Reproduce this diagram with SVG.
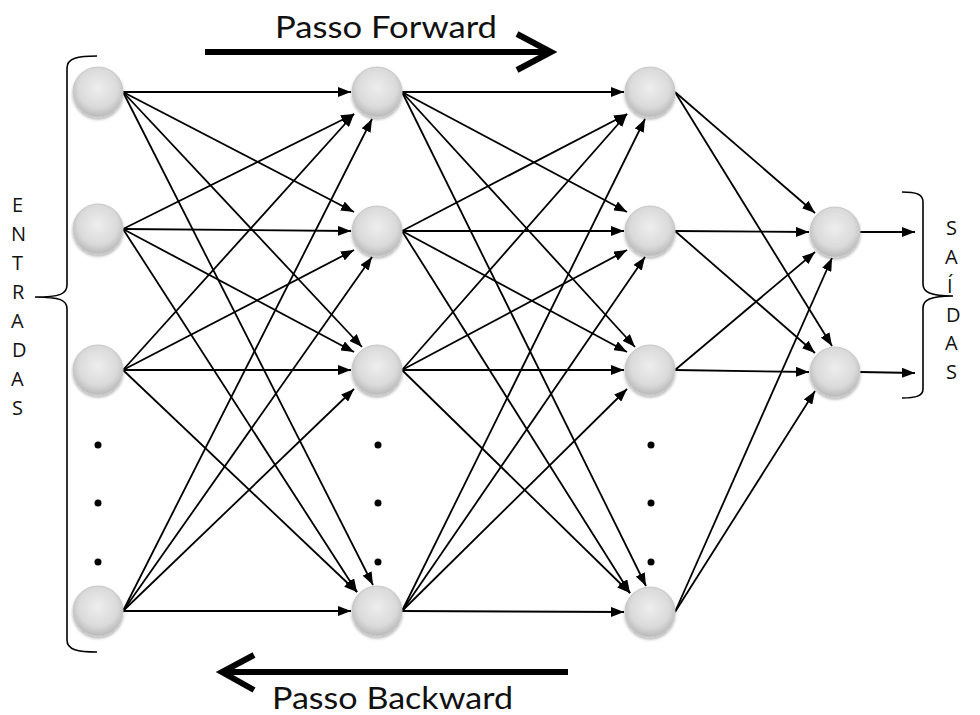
<svg xmlns="http://www.w3.org/2000/svg" width="980" height="715" viewBox="0 0 980 715">
  <style>
    .edge { stroke: #000; stroke-width: 1.8; fill: none; marker-end: url(#arrow); }
    .node { fill: url(#sphere); stroke: #c8c8c8; stroke-width: 1; filter: url(#shade); }
    .bracket { stroke: #000; stroke-width: 1.6; fill: none; }
    .dot { fill: #000; }
    .pass { stroke: #000; stroke-width: 6; fill: none; }
    .title { font-family: Lato, "Open Sans", "Liberation Sans", sans-serif; font-size: 31px; fill: #111; }
    .side { font-family: "Open Sans", Lato, "Liberation Sans", sans-serif; font-size: 20px; fill: #111; }
  </style>
  <defs>
    <radialGradient id="sphere" cx="0.5" cy="0.42" r="0.56">
      <stop offset="0" stop-color="#eeeeee"/>
      <stop offset="0.7" stop-color="#dadada"/>
      <stop offset="1" stop-color="#bcbcbc"/>
    </radialGradient>
    <filter id="shade" x="-30%" y="-30%" width="160%" height="170%">
      <feDropShadow dx="0" dy="2" stdDeviation="1.5" flood-color="#000" flood-opacity="0.3"/>
    </filter>
    <marker id="arrow" markerUnits="userSpaceOnUse" markerWidth="13" markerHeight="10" refX="13" refY="5" orient="auto">
      <path d="M0,0 L13,5 L0,10 z" fill="#000"/>
    </marker>
  </defs>

  <!-- pass direction arrows and captions -->
  <g id="forward">
    <text class="title" x="275" y="38" textLength="222" lengthAdjust="spacingAndGlyphs">Passo Forward</text>
    <path class="pass" d="M205,52 L548,52"/>
    <path class="pass" d="M517,34 L551,52 L517,70"/>
  </g>
  <g id="backward">
    <path class="pass" d="M568,672 L226,672"/>
    <path class="pass" d="M254,655 L222,672 L254,690"/>
    <text class="title" x="272" y="709" textLength="241" lengthAdjust="spacingAndGlyphs">Passo Backward</text>
  </g>

  <!-- input / output braces and labels -->
  <g id="inputs-label">
    <path class="bracket" d="M97,56 C78,56 67,58 67,68 L67,285 C67,294 60,297 35,297 C60,297 67,300 67,309 L67,640 C67,650 78,652 97,652"/>
    <text class="side" x="12" y="212">E</text>
    <text class="side" x="11" y="241">N</text>
    <text class="side" x="12" y="270">T</text>
    <text class="side" x="12" y="299">R</text>
    <text class="side" x="11" y="328">A</text>
    <text class="side" x="12" y="357">D</text>
    <text class="side" x="11" y="386">A</text>
    <text class="side" x="12" y="415">S</text>
  </g>
  <g id="outputs-label">
    <path class="bracket" d="M902,192 C916,192 923,194 923,202 L923,284 C923,292 930,296 953,296 C930,296 923,300 923,308 L923,389 C923,396 916,398 902,398"/>
    <text class="side" x="946" y="235">S</text>
    <text class="side" x="945" y="264">A</text>
    <text class="side" x="947" y="293">Í</text>
    <text class="side" x="946" y="322">D</text>
    <text class="side" x="945" y="350">A</text>
    <text class="side" x="946" y="379">S</text>
  </g>

  <!-- connectors -->
  <g id="connectors">
    <!-- layer 1 to layer 2 -->
    <path class="edge" d="M123,92 L351,92"/>
    <path class="edge" d="M123,229 L354,114"/>
    <path class="edge" d="M123,370 L354,114"/>
    <path class="edge" d="M123,611 L372,119"/>
    <path class="edge" d="M123,92 L354,212"/>
    <path class="edge" d="M123,229 L351,231"/>
    <path class="edge" d="M123,370 L354,250"/>
    <path class="edge" d="M123,611 L372,257"/>
    <path class="edge" d="M123,92 L362,347"/>
    <path class="edge" d="M123,229 L354,352"/>
    <path class="edge" d="M123,370 L351,370"/>
    <path class="edge" d="M123,611 L354,389"/>
    <path class="edge" d="M123,92 L373,585"/>
    <path class="edge" d="M123,229 L357,592"/>
    <path class="edge" d="M123,370 L357,592"/>
    <path class="edge" d="M123,611 L351,611"/>
    <!-- layer 2 to layer 3 -->
    <path class="edge" d="M402,92 L624,92"/>
    <path class="edge" d="M402,231 L627,114"/>
    <path class="edge" d="M402,370 L627,114"/>
    <path class="edge" d="M402,611 L645,119"/>
    <path class="edge" d="M402,92 L627,212"/>
    <path class="edge" d="M402,231 L624,231"/>
    <path class="edge" d="M402,370 L627,250"/>
    <path class="edge" d="M402,611 L645,257"/>
    <path class="edge" d="M402,92 L635,347"/>
    <path class="edge" d="M402,231 L627,352"/>
    <path class="edge" d="M402,370 L624,370"/>
    <path class="edge" d="M402,611 L627,389"/>
    <path class="edge" d="M402,92 L646,586"/>
    <path class="edge" d="M402,231 L630,593"/>
    <path class="edge" d="M402,370 L630,593"/>
    <path class="edge" d="M402,611 L624,612"/>
    <!-- layer 3 to output layer -->
    <path class="edge" d="M675,92 L815,213"/>
    <path class="edge" d="M675,231 L809,232"/>
    <path class="edge" d="M675,370 L815,252"/>
    <path class="edge" d="M675,612 L832,258"/>
    <path class="edge" d="M675,92 L832,346"/>
    <path class="edge" d="M675,231 L815,353"/>
    <path class="edge" d="M675,370 L809,372"/>
    <path class="edge" d="M675,612 L815,391"/>
    <!-- outputs -->
    <path class="edge" d="M860,232 L915,232"/>
    <path class="edge" d="M860,372 L915,373"/>
  </g>

  <!-- ellipsis dots between nodes -->
  <g id="ellipsis">
    <circle class="dot" cx="98" cy="445" r="3.5"/>
    <circle class="dot" cx="98" cy="503" r="3.5"/>
    <circle class="dot" cx="98" cy="562" r="3.5"/>
    <circle class="dot" cx="378" cy="445" r="3.5"/>
    <circle class="dot" cx="378" cy="503" r="3.5"/>
    <circle class="dot" cx="378" cy="562" r="3.5"/>
    <circle class="dot" cx="651" cy="445" r="3.5"/>
    <circle class="dot" cx="651" cy="503" r="3.5"/>
    <circle class="dot" cx="651" cy="562" r="3.5"/>
  </g>

  <!-- layer 1 -->
  <g id="in1"><circle class="node" cx="98" cy="92" r="25"/></g>
  <g id="in2"><circle class="node" cx="98" cy="229" r="25"/></g>
  <g id="in3"><circle class="node" cx="98" cy="370" r="25"/></g>
  <g id="in4"><circle class="node" cx="98" cy="611" r="25"/></g>
  <!-- layer 2 -->
  <g id="h1a"><circle class="node" cx="377" cy="92" r="25"/></g>
  <g id="h1b"><circle class="node" cx="377" cy="231" r="25"/></g>
  <g id="h1c"><circle class="node" cx="377" cy="370" r="25"/></g>
  <g id="h1d"><circle class="node" cx="377" cy="611" r="25"/></g>
  <!-- layer 3 -->
  <g id="h2a"><circle class="node" cx="650" cy="92" r="25"/></g>
  <g id="h2b"><circle class="node" cx="650" cy="231" r="25"/></g>
  <g id="h2c"><circle class="node" cx="650" cy="370" r="25"/></g>
  <g id="h2d"><circle class="node" cx="650" cy="612" r="25"/></g>
  <!-- output layer -->
  <g id="out1"><circle class="node" cx="835" cy="232" r="25"/></g>
  <g id="out2"><circle class="node" cx="835" cy="372" r="25"/></g>
</svg>
